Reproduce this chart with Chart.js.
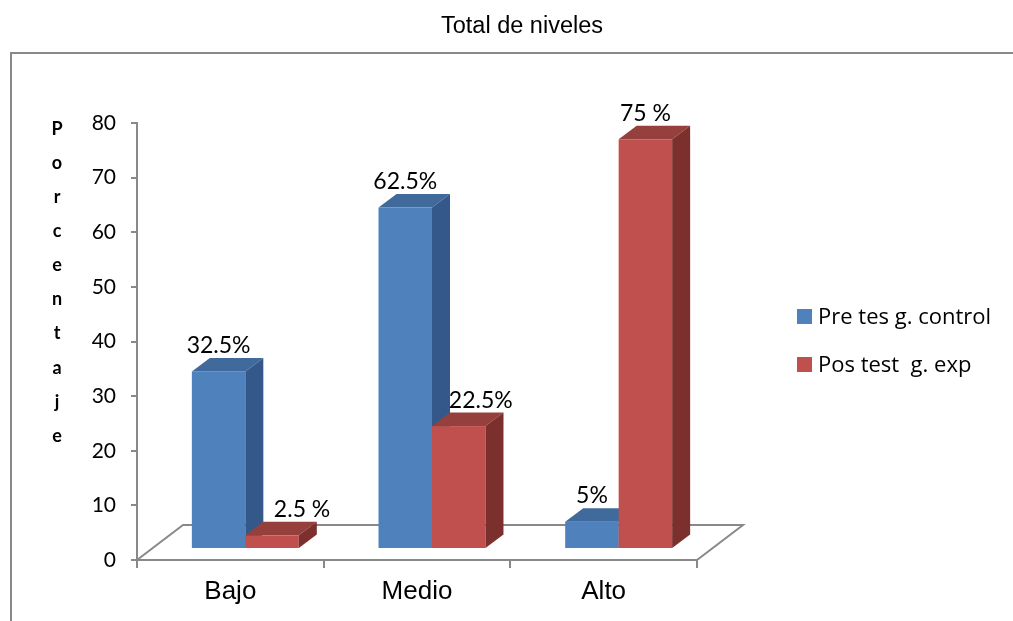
<!DOCTYPE html>
<html lang="es">
<head>
<meta charset="utf-8">
<title>Total de niveles</title>
<script src="https://cdn.jsdelivr.net/npm/chart.js@4.4.1/dist/chart.umd.min.js"></script>
<style>
    html, body { margin: 0; padding: 0; background: #fff; }
    #contenedor { width: 1013px; height: 621px; position: relative; }
</style>
</head>
<body>
<div id="contenedor"><canvas id="grafica"></canvas></div>
<script>
// Datos de la gráfica
const titulo = "Total de niveles";
const tituloEje = "Porcentaje";
const niveles = ["Bajo", "Medio", "Alto"];
const preControl = [32.5, 62.5, 5];
const posExperimental = [2.5, 22.5, 75];
const textoPre = ["32.5%", "62.5%", "5%"];
const textoPos = ["2.5 %", "22.5%", "75 %"];
const series = ["Pre tes g. control", "Pos test  g. exp"];

// Geometría del efecto 3D
const PISO = { x: 46, y: -35 };     // fondo del piso
const FRENTE = { x: 15, y: -11 };   // cara frontal de las barras
const CAJA = { x: 18, y: -13.5 };   // profundidad de cada barra

const GRIS = "#898989";

function poligono(ctx, puntos) {
    ctx.beginPath();
    ctx.moveTo(puntos[0][0], puntos[0][1]);
    for (let k = 1; k < puntos.length; k++) ctx.lineTo(puntos[k][0], puntos[k][1]);
    ctx.closePath();
    ctx.fill();
}

const marco = {
    id: "marco",
    beforeDraw(chart) {
        const ctx = chart.ctx;
        ctx.save();
        ctx.fillStyle = "#fff";
        ctx.fillRect(0, 0, chart.width, chart.height);
        ctx.strokeStyle = GRIS;
        ctx.lineWidth = 2;
        ctx.strokeRect(11, 53, chart.width + 20, chart.height + 20);
        ctx.restore();
    },
    afterDraw(chart) {
        const ctx = chart.ctx;
        ctx.save();
        ctx.fillStyle = "#000";
        // título
        ctx.font = "23.5px 'Liberation Sans', Arial, sans-serif";
        ctx.textAlign = "center";
        ctx.textBaseline = "alphabetic";
        ctx.fillText(titulo, 522, 33);
        // título del eje vertical, letra por letra
        ctx.font = "bold 18px Lato, sans-serif";
        ctx.textBaseline = "middle";
        [...tituloEje].forEach((letra, i) => ctx.fillText(letra, 57, 129 + i * 34.1));
        // leyenda
        ctx.font = "22px 'Open Sans', sans-serif";
        ctx.textAlign = "left";
        ctx.textBaseline = "alphabetic";
        chart.data.datasets.forEach((ds, i) => {
            const y = 309 + i * 48;
            ctx.fillStyle = ds.backgroundColor;
            ctx.fillRect(797, y, 15, 15);
            ctx.fillStyle = "#000";
            ctx.fillText(ds.label, 818, y + 15);
        });
        ctx.restore();
    }
};

const barras3d = {
    id: "barras3d",
    beforeDatasetsDraw(chart, args, opts) {
        const { ctx, chartArea: a } = chart;
        ctx.save();

        // piso
        ctx.strokeStyle = GRIS;
        ctx.lineWidth = 2;
        ctx.beginPath();
        ctx.moveTo(a.left, a.bottom);
        ctx.lineTo(a.left + PISO.x, a.bottom + PISO.y);
        ctx.lineTo(a.right + PISO.x, a.bottom + PISO.y);
        ctx.lineTo(a.right, a.bottom);
        ctx.stroke();

        const etiquetas = [];
        chart.data.datasets.forEach((ds, i) => {
            const meta = chart.getDatasetMeta(i);
            meta.data.forEach((barra, j) => {
                const { x, y, base, width } = barra.getProps(["x", "y", "base", "width"], true);
                const x0 = x - width / 2 + FRENTE.x;
                const x1 = x + width / 2 + FRENTE.x;
                const yt = y + FRENTE.y;
                const yb = base + FRENTE.y;

                ctx.fillStyle = ds.backgroundColor;
                ctx.fillRect(x0, yt, x1 - x0, yb - yt);

                ctx.fillStyle = ds.colorSuperior;
                poligono(ctx, [[x0, yt], [x0 + CAJA.x, yt + CAJA.y], [x1 + CAJA.x, yt + CAJA.y], [x1, yt]]);

                ctx.fillStyle = ds.colorLateral;
                poligono(ctx, [[x1, yt], [x1 + CAJA.x, yt + CAJA.y], [x1 + CAJA.x, yb + CAJA.y], [x1, yb]]);

                etiquetas.push({
                    texto: ds.etiquetas[j],
                    x: (x0 + x1) / 2 + opts.desplazamiento[i][j],
                    y: yt + CAJA.y - 5
                });
            });
        });

        ctx.fillStyle = "#000";
        ctx.font = "23px Lato, sans-serif";
        ctx.textAlign = "center";
        ctx.textBaseline = "alphabetic";
        etiquetas.forEach(e => ctx.fillText(e.texto, e.x, e.y));

        ctx.restore();
        return false;
    }
};

new Chart(document.getElementById("grafica"), {
    type: "bar",
    data: {
        labels: niveles,
        datasets: [
            {
                label: series[0],
                data: preControl,
                etiquetas: textoPre,
                backgroundColor: "#4f81bd",
                colorSuperior: "#406a9c",
                colorLateral: "#34588a"
            },
            {
                label: series[1],
                data: posExperimental,
                etiquetas: textoPos,
                backgroundColor: "#c0504d",
                colorSuperior: "#96403d",
                colorLateral: "#7c302e"
            }
        ]
    },
    options: {
        responsive: true,
        maintainAspectRatio: false,
        devicePixelRatio: 1,
        animation: false,
        layout: { padding: { left: 0, top: 123, right: 316, bottom: 0 } },
        categoryPercentage: 0.573,
        barPercentage: 1,
        scales: {
            x: {
                afterFit(scale) { scale.height = 61; },
                grid: {
                    offset: true,
                    drawOnChartArea: false,
                    drawTicks: true,
                    tickLength: 8,
                    color: GRIS,
                    lineWidth: 2
                },
                border: { display: true, color: GRIS, width: 2 },
                ticks: {
                    color: "#000",
                    padding: 8,
                    font: { family: "'Liberation Sans', Arial, sans-serif", size: 26 }
                }
            },
            y: {
                min: 0,
                max: 80,
                afterFit(scale) { scale.width = 137; },
                grid: {
                    drawOnChartArea: false,
                    drawTicks: true,
                    tickLength: 6,
                    color: GRIS,
                    lineWidth: 2
                },
                border: { display: true, color: GRIS, width: 2 },
                ticks: {
                    stepSize: 10,
                    color: "#000",
                    padding: 15,
                    font: { family: "Lato, sans-serif", size: 21 }
                }
            }
        },
        plugins: {
            legend: { display: false },
            title: { display: false },
            tooltip: { enabled: false },
            barras3d: { desplazamiento: [[0, 0, 0], [30, 22, 0]] }
        }
    },
    plugins: [marco, barras3d]
});
</script>
</body>
</html>
